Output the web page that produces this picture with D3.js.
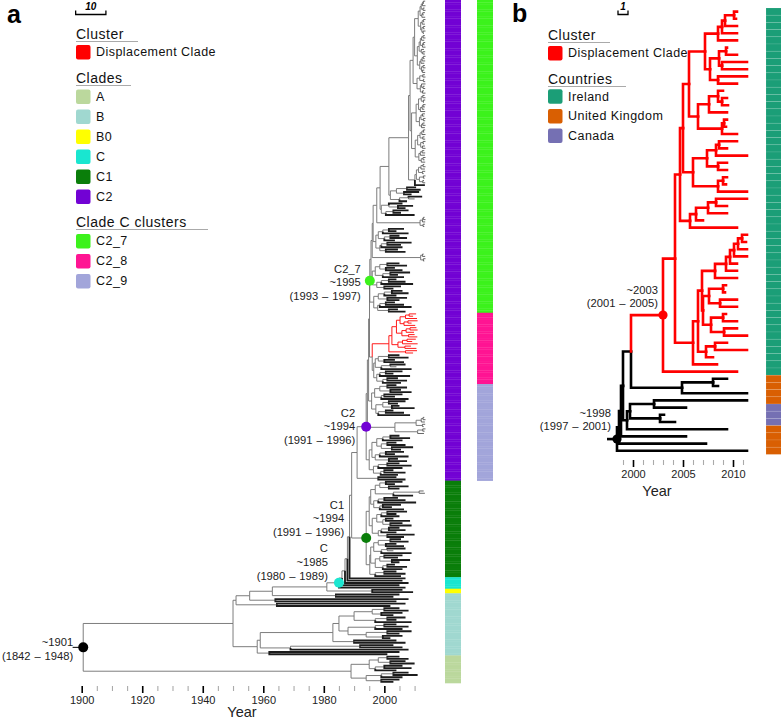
<!DOCTYPE html>
<html><head><meta charset="utf-8">
<script src="https://cdn.jsdelivr.net/npm/d3@7"></script>
<style>
body{margin:0;background:#fff;}
svg{display:block;font-family:'Liberation Sans',Arial,Helvetica,sans-serif;}
</style></head><body>
<svg id="chart" width="781" height="719"></svg>
<script>
// ================= DATA =================
// Trees are written as "(child,child)year"; a tip is its sampling year.
// "@NAME" inserts a named sub-tree, "#key" tags a node that carries a dated marker.

// ---- Panel a : clade C2_7 pieces ----
const aT1 = "(((((2013.5,2013.1)2012.9,2013.6)2012.6,(2013.3,2013.6)2012.8)2012.2,((2013.4,2013.0)2012.7,2013.5)2012.4)2011.8,(((2013.6,2013.2)2012.9,2013.4)2012.5,((2013.5,2013.3)2012.9,(2013.6,2013.1)2012.8)2012.4)2012.0)2011.2";
const aT2 = "(((((2013.4,2013.6)2012.8,2013.2)2012.3,((2013.5,2013.3)2012.9,2013.6)2012.6)2011.9,(2013.1,(2013.5,2013.4)2012.7)2012.2)2011.5,((((2013.6,2013.3)2012.9,2013.5)2012.5,2013.2)2012.1,((2013.4,2013.6)2012.8,(2013.2,2013.5)2012.6)2012.3)2011.7)2010.9";
const aT3 = "((((2013.3,2013.6)2012.7,(2013.5,2013.1)2012.9)2012.2,(((2013.6,2013.4)2012.8,2013.2)2012.5,2013.5)2011.9)2011.3,(((2013.4,2013.2)2012.6,(2013.6,2013.5)2012.9)2012.1,((2013.3,2013.6)2012.7,2013.4)2012.3)2011.6)2010.5";
const aT4 = "(((((2013.5,2013.2)2012.9,2013.6)2012.4,(2013.3,2013.5)2012.7)2011.8,((2013.6,2013.1)2012.8,(2013.4,2013.6)2012.6)2012.0)2011.0,(((2013.2,2013.5)2012.5,2013.4)2011.9,((2013.6,2013.3)2012.8,2013.5)2012.2)2011.4)2010.2";
const aT5 = "(((2013.4,2013.6)2012.7,(2013.2,2013.5)2012.9)2011.7,((2013.6,(2013.3,2013.5)2012.8)2012.3,(2013.1,2013.6)2012.6)2011.9)2010.8";
const aT6 = "(((((2013.2,2013.6)2012.8,2013.4)2012.1,(2013.5,2013.0)2012.6)2011.3,((2013.6,2013.3)2012.9,(2013.1,2013.5)2012.7)2011.6)2010.6,2013.4)2010.1";
const aTOP = "((((@T1,@T2)2010.0,@T5)2009.5,(@T3,@T4)2009.0)2008.5,@T6)2008.0";
const aS1 = "(((2010.5,2012.0)2007.5,(2011.5,2009.0)2006.5)2004.0,((2012.5,2010.0)2008.0,2007.5)2005.0)2002.0";
const aS2 = "((2006.0,(2009.5,2007.0)2004.5)2001.5,((2008.0,2005.5)2003.0,2010.0)2000.5)1999.0";
const aL1 = "(((2013.3,2013.6)2012.9,2013.5)2012.6,(2013.4,2013.2)2012.8)2011.8";
const aD1 = "((((2006.5,2004.0)2001.5,2008.0)1999.5,((2005.0,2007.5)2002.0,2003.5)2000.0)1998.0,(((2009.0,2005.5)2001.0,2006.0)1999.0,(2004.5,2007.0)2000.5)1998.5)1997.2";
const aL2 = "((2013.0,2013.5)2012.6,(2013.6,2013.2)2012.9)2012.0";
const aLD1 = "((((2005.0,2007.5)2001.0,(2003.5,2006.0)2000.5)1998.5,((2008.5,2004.5)2002.0,2006.5)1999.5)1997.0,(((2004.0,2007.0)2001.5,2009.5)1999.0,(2005.5,2003.0)2000.0)1997.5)1996.0";
const aLD2 = "((((2006.0,2008.0)2002.5,2004.0)2000.0,(2007.5,2005.0)2001.0)1998.0,(((2003.5,2006.5)2000.5,2009.0)1998.5,(2004.5,2007.0)2001.5)1997.8)1996.5";
const aC2_7 = "(((((((@TOP,@S1)2001.5,@S2)1998.6,@L1)1997.5,@D1)1996.3,@L2)1996.0,@LD1)1995.6,@LD2)1995.2#C2_7";
// ---- C2_8 (with the displacement clade) ----
const aRED = "((((((2010.5,2009.5)2008.2,2010.8)2007.0,((2011.0,2009.0)2007.8,2010.2)2006.5)2005.2,(((2010.6,2011.0)2008.5,2009.8)2007.2,(2010.0,2010.9)2008.0)2005.8)2004.0,(((2010.4,2009.2)2007.5,2011.0)2006.0,(2008.8,2010.6)2006.8)2004.5)2002.5,(2010.8,2009.5)2007.0)2001.5";
const aBK8 = "((((2005.0,2008.0)2001.5,(2003.5,2006.5)2000.0)1998.0,((2007.0,2004.0)2002.0,2009.0)1999.0)1997.0,(((2006.0,2003.0)2000.5,2008.5)1998.5,((2004.5,2007.5)2001.0,2005.5)1999.5)1997.5)1996.5";
const aC2_8 = "(@RED,@BK8)1996.0";
// ---- C2_9 ----
const aC9A = "((((2004.0,2007.5)2001.0,(2005.5,2009.0)2002.0)1998.5,((2006.0,2003.5)2000.0,2008.0)1999.0)1996.8,(((2007.0,2004.5)2001.5,(2005.0,2010.0)2002.5)1999.5,((2003.0,2006.5)2000.5,2008.5)1998.0)1997.2)1995.8";
const aC9B = "((((2013.2,2013.6)2012.8,2013.4)2012.2,(2013.5,2013.0)2012.6)2010.5,((2013.6,2013.3)2012.7,2013.1)2011.0)2003.5";
const aC9C = "(((((2005.0,2008.5)2002.0,2006.0)1999.5,((2004.0,2007.0)2001.0,(2009.5,2005.5)2002.5)1999.0)1997.5,(((2006.5,2003.5)2000.5,2008.0)1998.5,(2004.5,2007.5)2001.5)1997.0)1995.9,(((2005.0,2009.0)2001.0,2006.0)1998.0,((2003.0,2007.0)2000.0,2004.5)1998.8)1996.4)1995.0";
const aC2 = "((((@C2_7,@C2_8)1995.1,@C9A)1994.8,@C9B)1994.4,@C9C)1994.0#C2";
const aC2X = "(2004.0,2007.0)1998.0";
// ---- C1 ----
const aC1U = "(((((2006.0,2003.5)2000.5,(2008.0,2005.0)2001.5)1998.5,((2013.0,2013.4)2011.5,2009.5)2003.0)1997.0,(((2004.5,2007.0)2000.0,2010.5)1998.0,((2005.5,2002.5)1999.5,2006.5)1998.5)1996.5)1995.5,((((2007.5,2004.0)2001.0,2005.0)1999.0,((2003.0,2008.5)2000.5,(2006.0,2009.0)2002.0)1999.5)1997.5,(((2005.0,2007.0)2001.5,2004.0)1999.0,(2010.0,2006.5)2001.0)1998.0)1996.0)1995.0";
const aC1L = "(((((2005.5,2008.0)2002.0,(2004.0,2006.5)2000.5)1998.0,((2007.0,2003.0)2001.0,2009.0)1999.0)1996.5,(((2006.0,2004.5)2000.0,(2008.5,2005.0)2002.5)1998.5,((2003.5,2007.5)2001.0,2006.0)1999.5)1997.0)1995.5,((2004.0,2007.0)2000.0,2005.5)1997.0)1995.2";
const aC1 = "(@C1U,@C1L)1994.0#C1";
// ---- C, B0, B, A and the deep backbone ----
const aP = "((@C2,@C2X)1991.0,@C1)1989.2";
const aC = "(((((@P,2007.0)1988.5,2006.0)1987.8,2008.0)1987.0,2005.0)1986.0,2007.0)1985.0#C";
const aB0 = "(2006.0,2009.5)1996.0";
const aN1981 = "(@C,@B0)1981.0";
const aBX1 = "(2005.0,2003.0)1984.0";
const aBX3 = "(2008.0,2004.0)1964.0";
const aBX2 = "(2007.0,2002.0)1964.5";
const aXA = "((@N1981,@BX1)1963.0,@BX3)1955.5";
const aX1 = "(@XA,@BX2)1951.0";
const aBIG = "((((2005.0,2008.0)2000.0,(2006.0,2003.0)1999.0)1996.0,((2007.0,2004.0)2001.0,2009.0)1997.0)1990.0,(((2004.0,2008.0)2000.0,2006.0)1997.0,((2009.0,2005.0)2001.0,(2006.0,2002.0)1999.5)1994.0)1988.0)1985.0";
const aB = "(((@BIG,(2004.0,2007.0)1990.0)1983.0,((2003.0,2006.0)1992.0,2008.0)1969.0)1959.0,(2005.0,2001.0)1962.0)1958.0";
const aX = "(@X1,@B)1950.0";
const aA = "((((2005.0,2008.0)2001.0,(2007.0,2010.0)2002.0)1998.0,((2006.0,2009.0)2000.0,2004.0)1997.0)1995.0,(((2008.0,2011.0)2003.0,2006.0)1999.0,(2005.0,2003.0)1999.0)1994.0)1989.0";
const treeA = "(@X,@A)1900.5#root";
const rootStemA = 1897;

// ---- Panel b : Irish displacement clade and relatives ----
const bG1 = "((((2010.4,2010.3)2010.1,2010.4)2009.2,2010.4)2008.9,2010.4)2008.5";
const bG2 = "(((2009.4,2010.4)2009.3,(2011.4,2011.4)2008.9)2008.6,(2011.4,2010.4)2008.5)2007.7";
const bG3 = "((2009.0,(2009.4,2009.5)2008.9)2008.5,2009.4)2007.6";
const bG4 = "((2009.4,2009.3)2009.1,2010.4)2008.9";
const bG5 = "(((2010.4,2009.4)2008.6,2011.4)2008.3,(2009.4,2009.4)2008.5)2007.4";
const bG6 = "((2009.4,2009.3)2009.0,2011.4)2008.5";
const bG7 = "((((2011.4,2009.4)2008.3,2009.4)2007.5,2007.0)2006.3,2010.4)2005.7";
const bTOP = "((((@G1,@G2)2007.2,(@G3,@G4)2006.5)2005.6,(@G5,@G6)2006.0)2005.0,@G7)2004.7";
const bL1 = "((((((2011.4,2011.3)2010.9,2011.4)2010.5,2011.4)2010.1,2010.4)2009.7,2010.4)2009.3,2010.4)2008.2";
const bL2 = "((2009.3,2009.2)2009.0,(2010.4,2010.4)2008.7)2007.6";
const bL3 = "((2009.3,2010.4)2009.0,(2010.4,2011.4)2009.1)2007.8";
const bL4 = "((2009.4,2011.4)2008.2,2008.0)2007.3";
const bLOW = "(((@L1,(@L2,@L3)2007.0)2006.9,@L4)2006.5,2008.4)2006.0";
const bRED = "((@TOP,@LOW)2004.2,2010.4)2003.0#redB";
const bBK1 = "((2009.4,2008.5)2008.0,2011.4)2004.9";
const bBK2 = "(((2011.4,2005.3)2002.1,(2003.1,2004.2)2002.7)1999.7,2009.4)1999.4";
const treeB = "(((((@RED,@BK1)1999.8,@BK2)1999.0,2005.3)1998.8,2007.3)1998.6,2011.4)1998.4#rootB";
const rootStemB = 1997.4;
const countryRunsB = [["Ireland", 51], ["United Kingdom", 4], ["Canada", 3], ["United Kingdom", 4]];

// ---- categories, ticks and texts ----
const cladeNames = ["A", "B", "B0", "C", "C1", "C2"];
const clusterNames = ["C2_7", "C2_8", "C2_9"];
const countryNames = ["Ireland", "United Kingdom", "Canada"];
const majorTicksA = [1900, 1920, 1940, 1960, 1980, 2000];
const minorTicksA = [1905, 1910, 1915, 1925, 1930, 1935, 1945, 1950, 1955, 1965, 1970, 1975, 1985, 1990, 1995, 2005, 2010];
const majorTicksB = [2000, 2005, 2010];
const minorTicksB = [1999, 2001, 2002, 2003, 2004, 2006, 2007, 2008, 2009, 2011];
const nodeLabels = [
  {key: "root", lines: ["~1901", "(1842 \u2013 1948)"]},
  {key: "C", lines: ["C", "~1985", "(1980 \u2013 1989)"]},
  {key: "C1", lines: ["C1", "~1994", "(1991 \u2013 1996)"]},
  {key: "C2", lines: ["C2", "~1994", "(1991 \u2013 1996)"]},
  {key: "C2_7", lines: ["C2_7", "~1995", "(1993 \u2013 1997)"]},
  {key: "redB", lines: ["~2003", "(2001 \u2013 2005)"]},
  {key: "rootB", lines: ["~1998", "(1997 \u2013 2001)"]}
];

// ================= STYLE / LAYOUT =================
const lookupA = {T1:aT1,T2:aT2,T3:aT3,T4:aT4,T5:aT5,T6:aT6,TOP:aTOP,S1:aS1,S2:aS2,L1:aL1,D1:aD1,L2:aL2,LD1:aLD1,LD2:aLD2,
  C2_7:aC2_7,RED:aRED,BK8:aBK8,C2_8:aC2_8,C9A:aC9A,C9B:aC9B,C9C:aC9C,C2:aC2,C2X:aC2X,C1U:aC1U,C1L:aC1L,C1:aC1,
  P:aP,C:aC,B0:aB0,N1981:aN1981,BX1:aBX1,BX2:aBX2,BX3:aBX3,XA:aXA,X1:aX1,BIG:aBIG,B:aB,X:aX,A:aA};
const tagsA = {C2:{clade:"C2"},C2_7:{cluster:"C2_7"},C2_8:{cluster:"C2_8"},RED:{red:true},C9A:{cluster:"C2_9"},
  C9B:{cluster:"C2_9"},C9C:{cluster:"C2_9"},C2X:{clade:"C2",cluster:"C2_9"},C1:{clade:"C1"},C:{clade:"C"},
  B0:{clade:"B0"},BX1:{clade:"B"},BX2:{clade:"B"},BX3:{clade:"B"},B:{clade:"B"},A:{clade:"A"}};
const lookupB = {G1:bG1,G2:bG2,G3:bG3,G4:bG4,G5:bG5,G6:bG6,G7:bG7,TOP:bTOP,L1:bL1,L2:bL2,L3:bL3,L4:bL4,LOW:bLOW,RED:bRED,BK1:bBK1,BK2:bBK2};
const tagsB = {RED:{red:true}};

const cladeColor = {A:"#bbd89d", B:"#a0d8d0", B0:"#ffff00", C:"#19e6d0", C1:"#0a7e0a", C2:"#7202d4"};
const clusterColor = {C2_7:"#3cf21c", C2_8:"#ff1493", C2_9:"#a2a5da"};
const countryColor = {"Ireland":"#1b9e77", "United Kingdom":"#d95f02", "Canada":"#7570b3"};
const markerColor = {root:"#000", C:"#1de6d0", C1:"#0a7e0a", C2:"#7202d4", C2_7:"#3cf21c", redB:"#ff0000", rootB:"#000"};
const labelPlace = {root:{dx:-10,dy:[-5,9]}, C:{dx:-11,dy:[-35,-21,-7]}, C1:{dx:-22,dy:[-33,-20,-6]},
  C2:{dx:-11,dy:[-14,-1,13]}, C2_7:{dx:-9,dy:[-12,1,15]}, redB:{dx:-5,dy:[-25,-12]}, rootB:{dx:-6,dy:[-26,-13]}};

function parseTree(src, lookup, tags, tag) {
  const s = src.replace(/\s+/g, "");
  let i = 0;
  function word() { const m = /^\w+/.exec(s.slice(i)); i += m[0].length; return m[0]; }
  function node(t) {
    if (s[i] === "@") { i++; const name = word(); return parseTree(lookup[name], lookup, tags, Object.assign({}, t, tags[name] || {})); }
    const n = {children: [], tag: t};
    if (s[i] === "(") {
      i++; n.children.push(node(t));
      while (s[i] === ",") { i++; n.children.push(node(t)); }
      i++;
    }
    const m = /^-?\d+(\.\d+)?/.exec(s.slice(i));
    if (!m) throw new Error("parse error at " + i + " in " + s.slice(Math.max(0, i - 30), i + 10));
    i += m[0].length; n.date = +m[0];
    if (s[i] === "#") { i++; n.key = word(); }
    return n;
  }
  return node(tag);
}

function layoutTree(obj, x, yRange) {
  const root = d3.hierarchy(obj, d => d.children.length ? d.children : null);
  const leaves = root.leaves();
  const y = d3.scaleLinear().domain([0, leaves.length]).range(yRange);
  leaves.forEach((l, k) => { l.y = y(k + 0.5); l.y0 = y(k); l.y1 = y(k + 1); l.idx = k; });
  root.eachAfter(n => { if (n.children) n.y = (n.children[0].y + n.children[n.children.length - 1].y) / 2; });
  root.each(n => { n.x = x(n.data.date); });
  return root;
}

const svg = d3.select("#chart");
const xA = d3.scaleLinear().domain([1900, 2010]).range([81.7, 414.6]);
const xB = d3.scaleLinear().domain([2000, 2010]).range([633, 733]);

const rootA = layoutTree(parseTree(treeA, lookupA, tagsA, {}), xA, [0, 683]);
const rootB = layoutTree(parseTree(treeB, lookupB, tagsB, {}), xB, [8, 454.4]);

// ---------- bars ----------
const gBars = svg.append("g");
gBars.selectAll("rect.cl").data(rootA.leaves()).join("rect")
  .attr("x", 445).attr("width", 16).attr("y", d => d.y0).attr("height", d => d.y1 - d.y0 + 0.3)
  .attr("fill", d => cladeColor[d.data.tag.clade]);
gBars.selectAll("rect.cu").data(rootA.leaves().filter(d => d.data.tag.cluster)).join("rect")
  .attr("x", 477).attr("width", 16).attr("y", d => d.y0).attr("height", d => d.y1 - d.y0 + 0.3)
  .attr("fill", d => clusterColor[d.data.tag.cluster]);
const countryOfTip = countryRunsB.flatMap(([c, n]) => d3.range(n).map(() => c));
gBars.selectAll("rect.co").data(rootB.leaves()).join("rect")
  .attr("x", 766).attr("width", 16).attr("y", d => d.y0).attr("height", d => d.y1 - d.y0)
  .attr("fill", d => countryColor[countryOfTip[d.idx]])
  .attr("stroke", "rgba(255,255,255,0.18)").attr("stroke-width", 0.6);

// ---------- trees ----------
function drawTree(root, opts) {
  const g = svg.append("g").attr("fill", "none");
  const edges = root.descendants().filter(d => d.parent);
  const rank = d => d.data.tag.red ? 2 : (d.children ? 0 : 1);
  edges.sort((a, b) => rank(a) - rank(b));
  g.selectAll("path").data(edges).join("path")
    .attr("d", d => `M${d.parent.x},${d.parent.y}V${d.y}H${d.x}`)
    .attr("stroke", opts.color).attr("stroke-width", opts.width)
    .attr("stroke-linejoin", "miter").attr("stroke-linecap", opts.cap || "butt");
  g.append("path").attr("d", `M${opts.stemX},${root.y}H${root.x}`)
    .attr("stroke", "#000").attr("stroke-width", opts.stemWidth);
  const marks = root.descendants().filter(d => d.data.key);
  g.selectAll("circle").data(marks).join("circle")
    .attr("cx", d => d.x).attr("cy", d => d.y).attr("r", opts.r)
    .attr("fill", d => markerColor[d.data.key]);
  marks.forEach(m => {
    const lab = nodeLabels.find(l => l.key === m.data.key);
    if (!lab) return;
    const p = labelPlace[m.data.key];
    lab.lines.forEach((t, k) => {
      svg.append("text").attr("x", m.x + p.dx).attr("y", m.y + p.dy[k]).attr("dy", "0.35em")
        .attr("text-anchor", "end").attr("font-size", 11.2).attr("fill", "#222")
        .attr("word-spacing", 0.8).text(t);
    });
  });
}
const shortTip = d => !d.children && (d.data.date - d.parent.data.date) < 2.2;
drawTree(rootA, {
  color: d => d.data.tag.red ? "#ff0000" : (d.children ? "#6e6e6e" : (shortTip(d) ? "#555" : "#1c1c1c")),
  width: d => d.data.tag.red ? 0.9 : (d.children ? 0.9 : (shortTip(d) ? 0.9 : 1.85)),
  stemX: xA(rootStemA), stemWidth: 1, r: 5
});
drawTree(rootB, {
  color: d => d.data.tag.red ? "#ff0000" : "#000",
  width: 2.6, stemX: xB(rootStemB), stemWidth: 2.6, r: 4.6, cap: "square"
});

// ---------- axes ----------
function drawAxis(x, y, major, minor, fmt) {
  const gmin = svg.append("g").attr("transform", `translate(0,${y})`)
    .call(d3.axisBottom(x).tickValues(minor).tickSize(5).tickFormat(""));
  gmin.select(".domain").remove();
  gmin.selectAll("line").attr("stroke", "#aaa").attr("stroke-width", 1.1);
  const gmaj = svg.append("g").attr("transform", `translate(0,${y})`)
    .call(d3.axisBottom(x).tickValues(major).tickSize(7).tickPadding(3).tickFormat(fmt));
  gmaj.select(".domain").remove();
  gmaj.selectAll("line").attr("stroke", "#000").attr("stroke-width", 1.6);
  gmaj.selectAll("text").attr("font-size", 11).attr("fill", "#222")
    .attr("font-family", "'Liberation Sans', Arial, sans-serif");
}
drawAxis(xA, 686, majorTicksA, minorTicksA, d3.format("d"));
drawAxis(xB, 460, majorTicksB, minorTicksB, d3.format("d"));
svg.append("text").attr("x", 242).attr("y", 711.5).attr("dy", "0.35em").attr("text-anchor", "middle")
  .attr("font-size", 14.5).attr("fill", "#222").text("Year");
svg.append("text").attr("x", 657).attr("y", 491).attr("dy", "0.35em").attr("text-anchor", "middle")
  .attr("font-size", 14.5).attr("fill", "#222").text("Year");

// ---------- panel letters & scale bars ----------
svg.append("text").attr("x", 7).attr("y", 23).attr("font-size", 25).attr("font-weight", "bold").text("a");
svg.append("text").attr("x", 512).attr("y", 22).attr("font-size", 25).attr("font-weight", "bold").text("b");
function scaleBar(x, x0, x1, label) {
  svg.append("path").attr("d", `M${x(x0)},10.5V14.5H${x(x1)}V10.5`).attr("fill", "none")
    .attr("stroke", "#000").attr("stroke-width", 1.3);
  svg.append("text").attr("x", (x(x0) + x(x1)) / 2).attr("y", 6).attr("dy", "0.35em")
    .attr("text-anchor", "middle").attr("font-size", 10).attr("font-weight", "bold")
    .attr("font-style", "italic").text(label);
}
scaleBar(xA, 1898, 1908, "10");
scaleBar(xB, 1998.5, 1999.5, "1");

// ---------- legends ----------
function legendBlock(x0, titleY, title, underlineTo, items, firstY, step, colorOf) {
  svg.append("text").attr("x", x0).attr("y", titleY).attr("dy", "0.35em").attr("font-size", 14)
    .attr("letter-spacing", 0.5).attr("fill", "#111").text(title);
  svg.append("line").attr("x1", x0).attr("x2", underlineTo).attr("y1", titleY + 7.5).attr("y2", titleY + 7.5)
    .attr("stroke", "#aaa").attr("stroke-width", 1.2);
  items.forEach((it, k) => {
    const cy = firstY + k * step;
    svg.append("rect").attr("x", x0).attr("y", cy - 7).attr("width", 14.5).attr("height", 14.5)
      .attr("rx", 2).attr("fill", colorOf(it));
    svg.append("text").attr("x", x0 + 20).attr("y", cy).attr("dy", "0.35em").attr("font-size", 12.5)
      .attr("letter-spacing", 0.45).attr("fill", "#111").text(it);
  });
}
legendBlock(76, 34, "Cluster", 138, ["Displacement Clade"], 52, 20, () => "#ff0000");
legendBlock(76, 78, "Clades", 131, cladeNames, 96.5, 20, c => cladeColor[c]);
legendBlock(76, 222, "Clade C clusters", 208, clusterNames, 241, 20, c => clusterColor[c]);
legendBlock(548, 35, "Cluster", 610, ["Displacement Clade"], 53, 20, () => "#ff0000");
legendBlock(548, 79, "Countries", 626, countryNames, 96.3, 19.6, c => countryColor[c]);
</script>
</body></html>
